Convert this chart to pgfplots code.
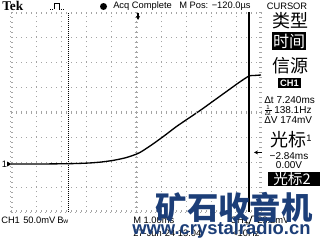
\documentclass[border=0pt]{standalone}
\usepackage{pgfplots}
\pgfplotsset{compat=1.18}
\usepackage{fontspec}
\setmainfont{Liberation Sans}
\newfontfamily\tekfont{Liberation Serif}
\newfontfamily\cjk{Noto Sans CJK SC}
\usetikzlibrary{arrows.meta}
\definecolor{wm}{RGB}{28,62,120}
\definecolor{gridc}{RGB}{165,165,165}
\begin{document}
\begin{tikzpicture}
\path[fill=white] (0,0) rectangle (240pt,180pt);
\path[use as bounding box] (0,0) rectangle (240pt,180pt);
\begin{axis}[at={(8.25pt,21pt)}, anchor=south west,
  width=187.5pt, height=150pt, scale only axis,
  xmin=-5.12, xmax=4.88, ymin=-96, ymax=304,
  xtick={-4.12,-3.12,-2.12,-1.12,-0.12,0.88,1.88,2.88,3.88},
  ytick={-46,4,54,104,154,204,254},
  xticklabels={}, yticklabels={}, major tick length=0pt,
  grid=major,
  major grid style={gridc, line width=0.75pt, dash pattern=on 0.75pt off 3pt},
  axis line style={gridc, line width=0.75pt, dash pattern=on 0.75pt off 3pt},
  clip=false]
\addplot[black, line width=1pt, smooth, tension=0.4] coordinates {
(-5.12,0) (-4.0,0) (-3.0,0.5) (-2.5,1) (-2.0,2) (-1.5,4) (-1.0,7.5) (-0.5,13)
(0,22) (0.5,38) (1.0,56) (1.5,75) (2.0,92) (2.5,109) (3.0,127) (3.5,145)
(4.0,163) (4.4,176) (4.6,177) (4.88,178)};
\addplot[black, line width=0.75pt, dash pattern=on 0.75pt off 0.75pt] coordinates {(-2.84,-96) (-2.84,304)};
\addplot[black, line width=1.1pt] coordinates {(4.40,-96) (4.40,304)};
\end{axis}
\begin{scope}[x=0.75pt,y=-0.75pt,shift={(0pt,180pt)}]
% center cross ticks
\foreach \i in {0,...,50} \draw[gridc, line width=0.6pt] ({11+5*\i},110.5) -- ({11+5*\i},113.5);
\foreach \i in {0,...,40} \draw[gridc, line width=0.6pt] (134.5,{12+5*\i}) -- (137.5,{12+5*\i});
% edge ticks
\foreach \i in {0,...,50} {\draw[gridc, line width=0.6pt] ({11+5*\i},12) -- ({11+5*\i},14);
  \draw[gridc, line width=0.6pt] ({11+5*\i},212) -- ({11+5*\i},210);}
\foreach \i in {0,...,40} {\draw[gridc, line width=0.6pt] (11,{12+5*\i}) -- (13,{12+5*\i});
  \draw[gridc, line width=0.6pt] (261,{12+5*\i}) -- (259,{12+5*\i});}
% top bar
\node[anchor=west, inner sep=0pt, font=\tekfont\bfseries\fontsize{10}{10}\selectfont] at (2,6) {Tek};
\draw[line width=0.6pt, dash pattern=on 0.75pt off 0.75pt] (50,9) -- (54,9);
\draw[line width=0.6pt] (54,9) -- (54,3) -- (59,3) -- (59,9);
\draw[line width=0.6pt, dash pattern=on 0.75pt off 0.75pt] (59,9) -- (64,9);
\fill (103.5,6.5) circle[radius=3.5];
\node[anchor=west, inner sep=0pt, font=\fontsize{7}{7}\selectfont] at (113,6.5) {Acq Complete};
\node[anchor=west, inner sep=0pt, font=\fontsize{7}{7}\selectfont] at (179,6.5) {M Pos: −120.0µs};
\node[inner sep=0pt, font=\fontsize{7}{7}\selectfont] at (287,6.5) {CURSOR};
% markers
\draw[-{Stealth[length=3pt,width=3pt]}, line width=0.8pt] (138,12.5) -- (138,20);
\node[inner sep=0pt, font=\fontsize{7}{7}\selectfont] at (4.5,164) {1};
\fill (7,161.5) -- (11.5,164) -- (7,166.5) -- cycle;
\draw[-{Stealth[length=3pt,width=3pt]}, line width=0.8pt] (262,152.4) -- (254,152.4);
% menu
\node[inner sep=0pt, font=\cjk\fontsize{13.5}{13.5}\selectfont] at (290,21) {类型};
\fill (272,32) rectangle (306,50);
\node[inner sep=0pt, text=white, font=\cjk\fontsize{12}{12}\selectfont] at (289,41) {时间};
\node[inner sep=0pt, font=\cjk\fontsize{13.5}{13.5}\selectfont] at (290,66) {信源};
\fill (278,78) rectangle (301,88);
\node[inner sep=0pt, text=white, font=\bfseries\fontsize{7}{7}\selectfont] at (289.5,83) {CH1};
\node[anchor=west, inner sep=0pt, font=\fontsize{7.5}{7.5}\selectfont] at (264,100) {Δt 7.240ms};
\node[inner sep=0pt, font=\fontsize{4.5}{4.5}\selectfont] at (268,107.5) {1};
\draw[line width=0.5pt] (265,110) -- (271.5,110);
\node[inner sep=0pt, font=\fontsize{4.5}{4.5}\selectfont] at (268,113) {Δt};
\node[anchor=west, inner sep=0pt, font=\fontsize{7.5}{7.5}\selectfont] at (274,110) {138.1Hz};
\node[anchor=west, inner sep=0pt, font=\fontsize{7.5}{7.5}\selectfont] at (264,120) {ΔV 174mV};
\node[inner sep=0pt, font=\cjk\fontsize{13.5}{13.5}\selectfont] at (288,140) {光标};
\node[inner sep=0pt, font=\fontsize{7}{7}\selectfont] at (309,138) {1};
\node[inner sep=0pt, font=\fontsize{7.5}{7.5}\selectfont] at (289,156) {−2.84ms};
\node[inner sep=0pt, font=\fontsize{7.5}{7.5}\selectfont] at (289,165.5) {0.00V};
\fill (268,172) rectangle (320,186);
\node[inner sep=0pt, text=white, font=\cjk\fontsize{11}{11}\selectfont] at (292,179) {光标2};
% bottom
\node[anchor=west, inner sep=0pt, font=\fontsize{7}{7}\selectfont] at (1,220) {CH1};
\node[anchor=west, inner sep=0pt, font=\fontsize{7}{7}\selectfont] at (23,220) {50.0mV};
\node[anchor=west, inner sep=0pt, font=\fontsize{7}{7}\selectfont] at (57,220.5) {B\fontsize{5}{5}\selectfont w};
\node[anchor=west, inner sep=0pt, font=\fontsize{7}{7}\selectfont] at (133,220) {M 1.00ms};
\node[anchor=west, inner sep=0pt, font=\fontsize{7}{7}\selectfont] at (230,220) {CH1};
\draw[line width=0.6pt] (246,224) -- (249,224) -- (252,216) -- (255,216);
\node[anchor=west, inner sep=0pt, font=\fontsize{7}{7}\selectfont] at (257,220) {23.2mV};
\node[anchor=west, inner sep=0pt, font=\fontsize{7}{7}\selectfont] at (133,233) {27-Jun-24 13:04};
\node[anchor=west, inner sep=0pt, font=\fontsize{7}{7}\selectfont] at (232,233) {<10Hz};
% watermark
\node[inner sep=0pt, text=wm, font=\cjk\bfseries\fontsize{23.5}{23.5}\selectfont] at (234,207) {矿石收音机};
\node[anchor=west, inner sep=0pt, text=wm, font=\bfseries\fontsize{13.8}{13.8}\selectfont] at (132,230) {www.crystalradio.cn};
\end{scope}
\end{tikzpicture}
\end{document}
